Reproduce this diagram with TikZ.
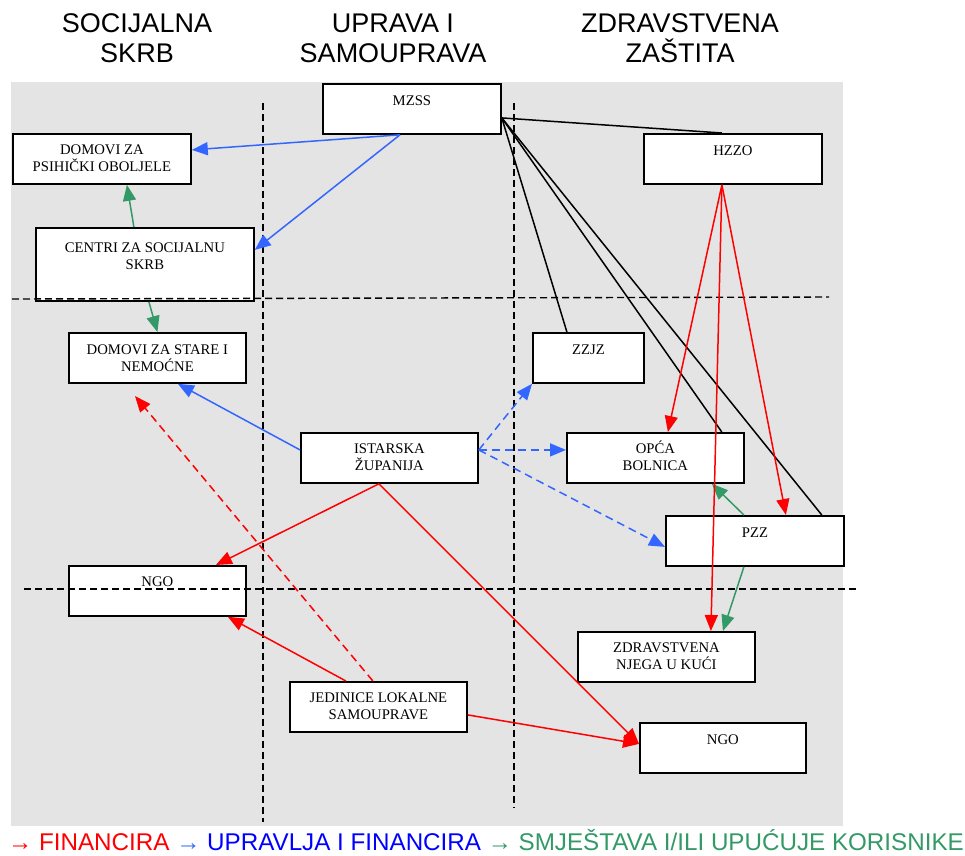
\documentclass[tikz,border=0pt]{standalone}
\usepackage{fontspec}
\setmainfont{Liberation Serif}
\newfontfamily\arialf{Liberation Sans}
\usetikzlibrary{arrows.meta}
\definecolor{bgc}{RGB}{228,228,228}
\definecolor{fred}{RGB}{255,0,0}
\definecolor{fblue}{RGB}{51,102,255}
\definecolor{lblue}{RGB}{0,0,255}
\definecolor{fgreen}{RGB}{51,153,102}
\newcommand{\bxt}[4]{\parbox[c][#2pt][t]{#1pt}{\centering\rule{0pt}{#3pt}#4}}
\begin{document}
\begin{tikzpicture}[x=1pt,y=-1pt,
  box/.style={draw=black, line width=1.8pt, fill=white, inner sep=0pt, anchor=north west, font=\fontsize{14.7}{17}\selectfont},
  gridline/.style={black, line width=1.4pt, dash pattern=on 7pt off 4pt},
  conn/.style={line width=1.5pt, -{Triangle[length=16pt,width=13pt]}},
  fin/.style={conn, fred},
  upr/.style={conn, fblue},
  smj/.style={conn, fgreen},
  veza/.style={line width=1.5pt, black},
  dsh/.style={dash pattern=on 8pt off 5pt},
  hdr/.style={font=\arialf\fontsize{27}{30}\selectfont, align=center}]
\useasboundingbox (0,0) rectangle (965,855);
\fill[bgc] (11,82) rectangle (843,826);
% headers
\node[hdr] (h1) at (137,38) {SOCIJALNA\\SKRB};
\node[hdr] (h2) at (393,38) {UPRAVA I\\SAMOUPRAVA};
\node[hdr] (h3) at (680,38) {ZDRAVSTVENA\\ZAŠTITA};
% boxes
\node[box] (mzss) at (322,83) {\bxt{178}{50}{22}{MZSS}};
\node[box] (dpsih) at (12,133) {\bxt{178}{50}{21}{DOMOVI ZA\\PSIHIČKI OBOLJELE}};
\node[box] (centri) at (35,227) {\bxt{218}{73}{25}{CENTRI ZA SOCIJALNU\\SKRB}};
\node[box] (dstare) at (68,332) {\bxt{177}{50}{22}{DOMOVI ZA STARE I\\NEMOĆNE}};
\node[box] (hzzo) at (643,133) {\bxt{178}{50}{22}{HZZO}};
\node[box] (zzjz) at (532,332) {\bxt{111}{50}{22}{ZZJZ}};
\node[box] (ist) at (300,432) {\bxt{177}{50}{21}{ISTARSKA\\ŽUPANIJA}};
\node[box] (ngol) at (68,565) {\bxt{177}{50}{21}{NGO}};
\node[box] (jls) at (289,681) {\bxt{177}{50}{21}{JEDINICE LOKALNE\\SAMOUPRAVE}};
\node[box] (opca) at (566,432) {\bxt{177}{50}{21}{OPĆA\\BOLNICA}};
\node[box] (pzz) at (665,515) {\bxt{178}{50}{22}{PZZ}};
\node[box] (zdr) at (577,631) {\bxt{177}{50}{21}{ZDRAVSTVENA\\NJEGA U KUĆI}};
\node[box] (ngor) at (639,722) {\bxt{166}{50}{22}{NGO}};
% dashed grid
\draw[gridline] (263,103) -- (263,822);
\draw[gridline] (514,103) -- (514,808);
\draw[gridline] (12,299) -- (829,297);
\draw[gridline] (24,589) -- (858,589);
% black links
\draw[veza] ([yshift=-9pt]mzss.east) -- ([xshift=-11pt]hzzo.north);
\draw[veza] ([yshift=-9pt]mzss.east) -- ([xshift=-21.5pt]zzjz.north);
\draw[veza] ([yshift=-9pt]mzss.east) -- ([xshift=-23pt]opca.north east);
\draw[veza] ([yshift=-9pt]mzss.east) -- ([xshift=-23pt]pzz.north east);
% blue
\draw[upr] ([xshift=78pt]mzss.south west) -- ([yshift=9pt]dpsih.east);
\draw[upr] ([xshift=78pt]mzss.south west) -- ([yshift=14.5pt]centri.east);
\draw[upr] ([yshift=8pt]ist.west) -- ([xshift=20.5pt]dstare.south);
\draw[upr,dsh] ([yshift=8pt]ist.east) -- (zzjz.south west);
\draw[upr,dsh] ([yshift=8pt]ist.east) -- ([yshift=8pt]opca.west);
\draw[upr,dsh] ([yshift=8pt]ist.east) -- ([yshift=-6pt]pzz.west);
% green
\draw[smj] ([xshift=-11pt]centri.north) -- ([xshift=25pt]dpsih.south);
\draw[smj] ([xshift=4pt]centri.south) -- (dstare.north);
\draw[smj] ([xshift=-11pt]pzz.north) -- ([xshift=56.5pt]opca.south);
\draw[smj] ([xshift=-11pt]pzz.south) -- ([xshift=56.5pt]zdr.north);
% red
\draw[fin] ([xshift=-11pt]hzzo.south) -- ([xshift=12.5pt]opca.north);
\draw[fin] ([xshift=-11pt]hzzo.south) -- ([xshift=44.5pt]zdr.north);
\draw[fin] ([xshift=-11pt]hzzo.south) -- ([xshift=31pt]pzz.north);
\draw[fin] ([xshift=-10.5pt]ist.south) -- ([xshift=58.5pt]ngol.north);
\draw[fin] ([xshift=-10.5pt]ist.south) -- ([yshift=4pt]ngor.west);
\draw[fin] ([xshift=-32.5pt]jls.north) -- ([xshift=70.5pt]ngol.south);
\draw[fin] ([yshift=-8pt]jls.east) -- ([yshift=4pt]ngor.west);
\coordinate (redtip) at (135,396);
\draw[fin,dsh] ([xshift=-5.5pt]jls.north) -- (redtip);
% legend
\node[anchor=base west, inner sep=0pt, font=\arialf\fontsize{24.2}{26}\selectfont] (legend) at (8,850)
 {\textcolor{fred}{→ FINANCIRA} \textcolor{fblue}{→} \textcolor{lblue}{UPRAVLJA I FINANCIRA} \textcolor{fgreen}{→ SMJEŠTAVA I/ILI UPUĆUJE KORISNIKE}};
\end{tikzpicture}
\end{document}
